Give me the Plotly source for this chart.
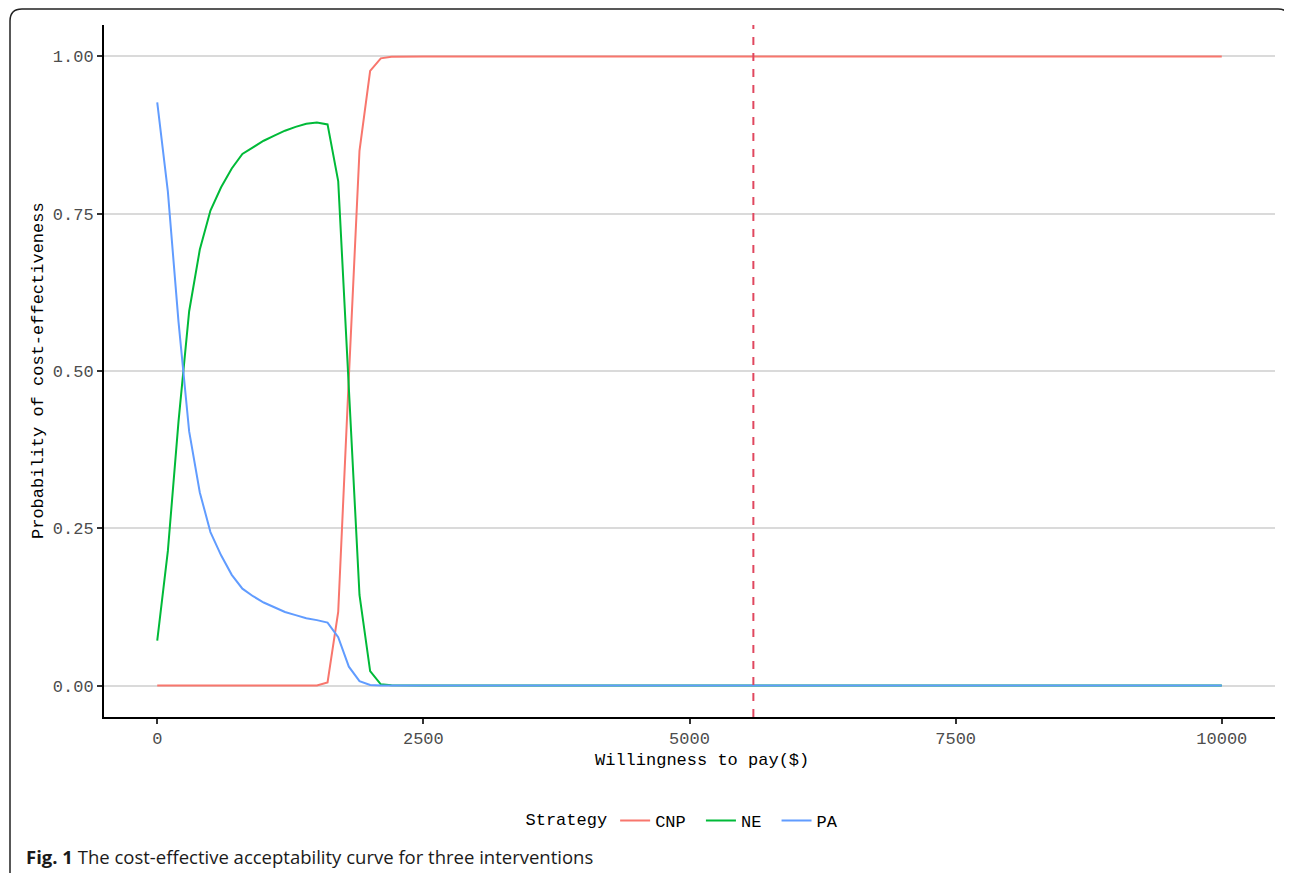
import plotly.graph_objects as go

# Willingness to pay ($) grid (flat after 2200)
wtp = [0, 100, 200, 300, 400, 500, 600, 700, 800, 900, 1000, 1100, 1200,
       1300, 1400, 1500, 1600, 1700, 1800, 1900, 2000, 2100, 2200, 2300,
       2500, 5000, 7500, 10000]

cnp = [0.000, 0.000, 0.000, 0.000, 0.000, 0.000, 0.000, 0.000, 0.000, 0.000,
       0.000, 0.000, 0.000, 0.000, 0.000, 0.000, 0.005, 0.117, 0.490, 0.850,
       0.977, 0.997, 0.9995, 1.000, 1.000, 1.000, 1.000, 1.000]
ne = [0.0715, 0.214, 0.420, 0.595, 0.693, 0.755, 0.792, 0.822, 0.845, 0.856,
      0.866, 0.874, 0.882, 0.888, 0.893, 0.895, 0.892, 0.802, 0.480, 0.144,
      0.023, 0.002, 0.0005, 0.000, 0.000, 0.000, 0.000, 0.000]
pa = [0.927, 0.785, 0.578, 0.404, 0.307, 0.244, 0.207, 0.176, 0.154, 0.142,
      0.132, 0.125, 0.117, 0.112, 0.107, 0.104, 0.100, 0.077, 0.030, 0.007,
      0.001, 0.000, 0.000, 0.000, 0.000, 0.000, 0.000, 0.000]

series_names = ["CNP", "NE", "PA"]
series_colors = ["#F8766D", "#00BA38", "#619CFF"]
threshold = 5600

x_ticks = [0, 2500, 5000, 7500, 10000]
y_ticks = [0.0, 0.25, 0.5, 0.75, 1.0]
y_tick_text = ["0.00", "0.25", "0.50", "0.75", "1.00"]

FONT = "Liberation Mono"
OFF = 8  # page body margin offset
W, H = 1292 - OFF, 873 - OFF
L, T = 104 - OFF, 25 - OFF
R = W - (1275 - OFF)
B = H - (717 - OFF)
pw, ph = W - L - R, H - T - B


def px(X):
    return (X - OFF - L) / pw


def py(Y):
    return (H - B - (Y - OFF)) / ph


fig = go.Figure()
for name, ys, col in zip(series_names, [cnp, ne, pa], series_colors):
    fig.add_trace(go.Scatter(x=wtp, y=ys, mode="lines", name=name + "\u00a0",
                             line=dict(color=col, width=2)))

fig.add_vline(x=threshold, line=dict(color="#E0475F", width=2, dash="8px,8px"))

# rounded frame around the figure
x0, y0, x1, y1, r = 10, 9, 1290, 885, 12
path = (f"M {px(x0)},{py(y0 + r)} Q {px(x0)},{py(y0)} {px(x0 + r)},{py(y0)} "
        f"L {px(x1 - r)},{py(y0)} Q {px(x1)},{py(y0)} {px(x1)},{py(y0 + r)} "
        f"L {px(x1)},{py(y1)} M {px(x0)},{py(y0 + r)} L {px(x0)},{py(y1)}")
fig.add_shape(type="path", path=path, xref="paper", yref="paper",
              line=dict(color="#222222", width=1.5), layer="below")

fig.update_layout(
    width=W, height=H,
    margin=dict(l=L, r=R, t=T, b=B, autoexpand=False),
    paper_bgcolor="white", plot_bgcolor="white",
    font=dict(family=FONT, size=16, color="#000000"),
    showlegend=True,
    legend=dict(orientation="h", x=px(688), xanchor="center", y=py(821), yanchor="middle",
                title=dict(text="Strategy", side="left", font=dict(family=FONT, size=17)),
                font=dict(family=FONT, size=17), itemwidth=30, tracegroupgap=0),
    xaxis=dict(range=[-500, 10500], tickvals=x_ticks, ticktext=[str(v) for v in x_ticks],
               showgrid=False, zeroline=False, showline=True, linecolor="black", linewidth=2,
               ticks="outside", ticklen=5, tickwidth=2, tickcolor="#333333",
               tickfont=dict(family=FONT, size=17, color="#4D4D4D")),
    yaxis=dict(range=[-0.05, 1.05], tickvals=y_ticks, ticktext=y_tick_text,
               showgrid=True, gridcolor="#DADADA", gridwidth=1.6, zeroline=False,
               showline=True, linecolor="black", linewidth=2,
               ticks="outside", ticklen=5, tickwidth=2, tickcolor="#333333",
               tickfont=dict(family=FONT, size=17, color="#4D4D4D")),
    annotations=[
        dict(text="Willingness to pay($)", xref="paper", yref="paper",
             x=px(702), y=py(760), xanchor="center", yanchor="middle", showarrow=False,
             font=dict(family=FONT, size=17, color="#000000")),
        dict(text="Probability of cost-effectiveness", xref="paper", yref="paper",
             x=px(38), y=py(371), xanchor="center", yanchor="middle", showarrow=False,
             textangle=-90, font=dict(family=FONT, size=17, color="#000000")),
        dict(text="<b>Fig. 1</b> The cost-effective acceptability curve for three interventions",
             xref="paper", yref="paper", x=px(24), y=py(856), xanchor="left", yanchor="middle",
             showarrow=False, font=dict(family="Open Sans", size=18.5, color="#1a1a1a")),
    ],
)

fig.write_html("out.html")
